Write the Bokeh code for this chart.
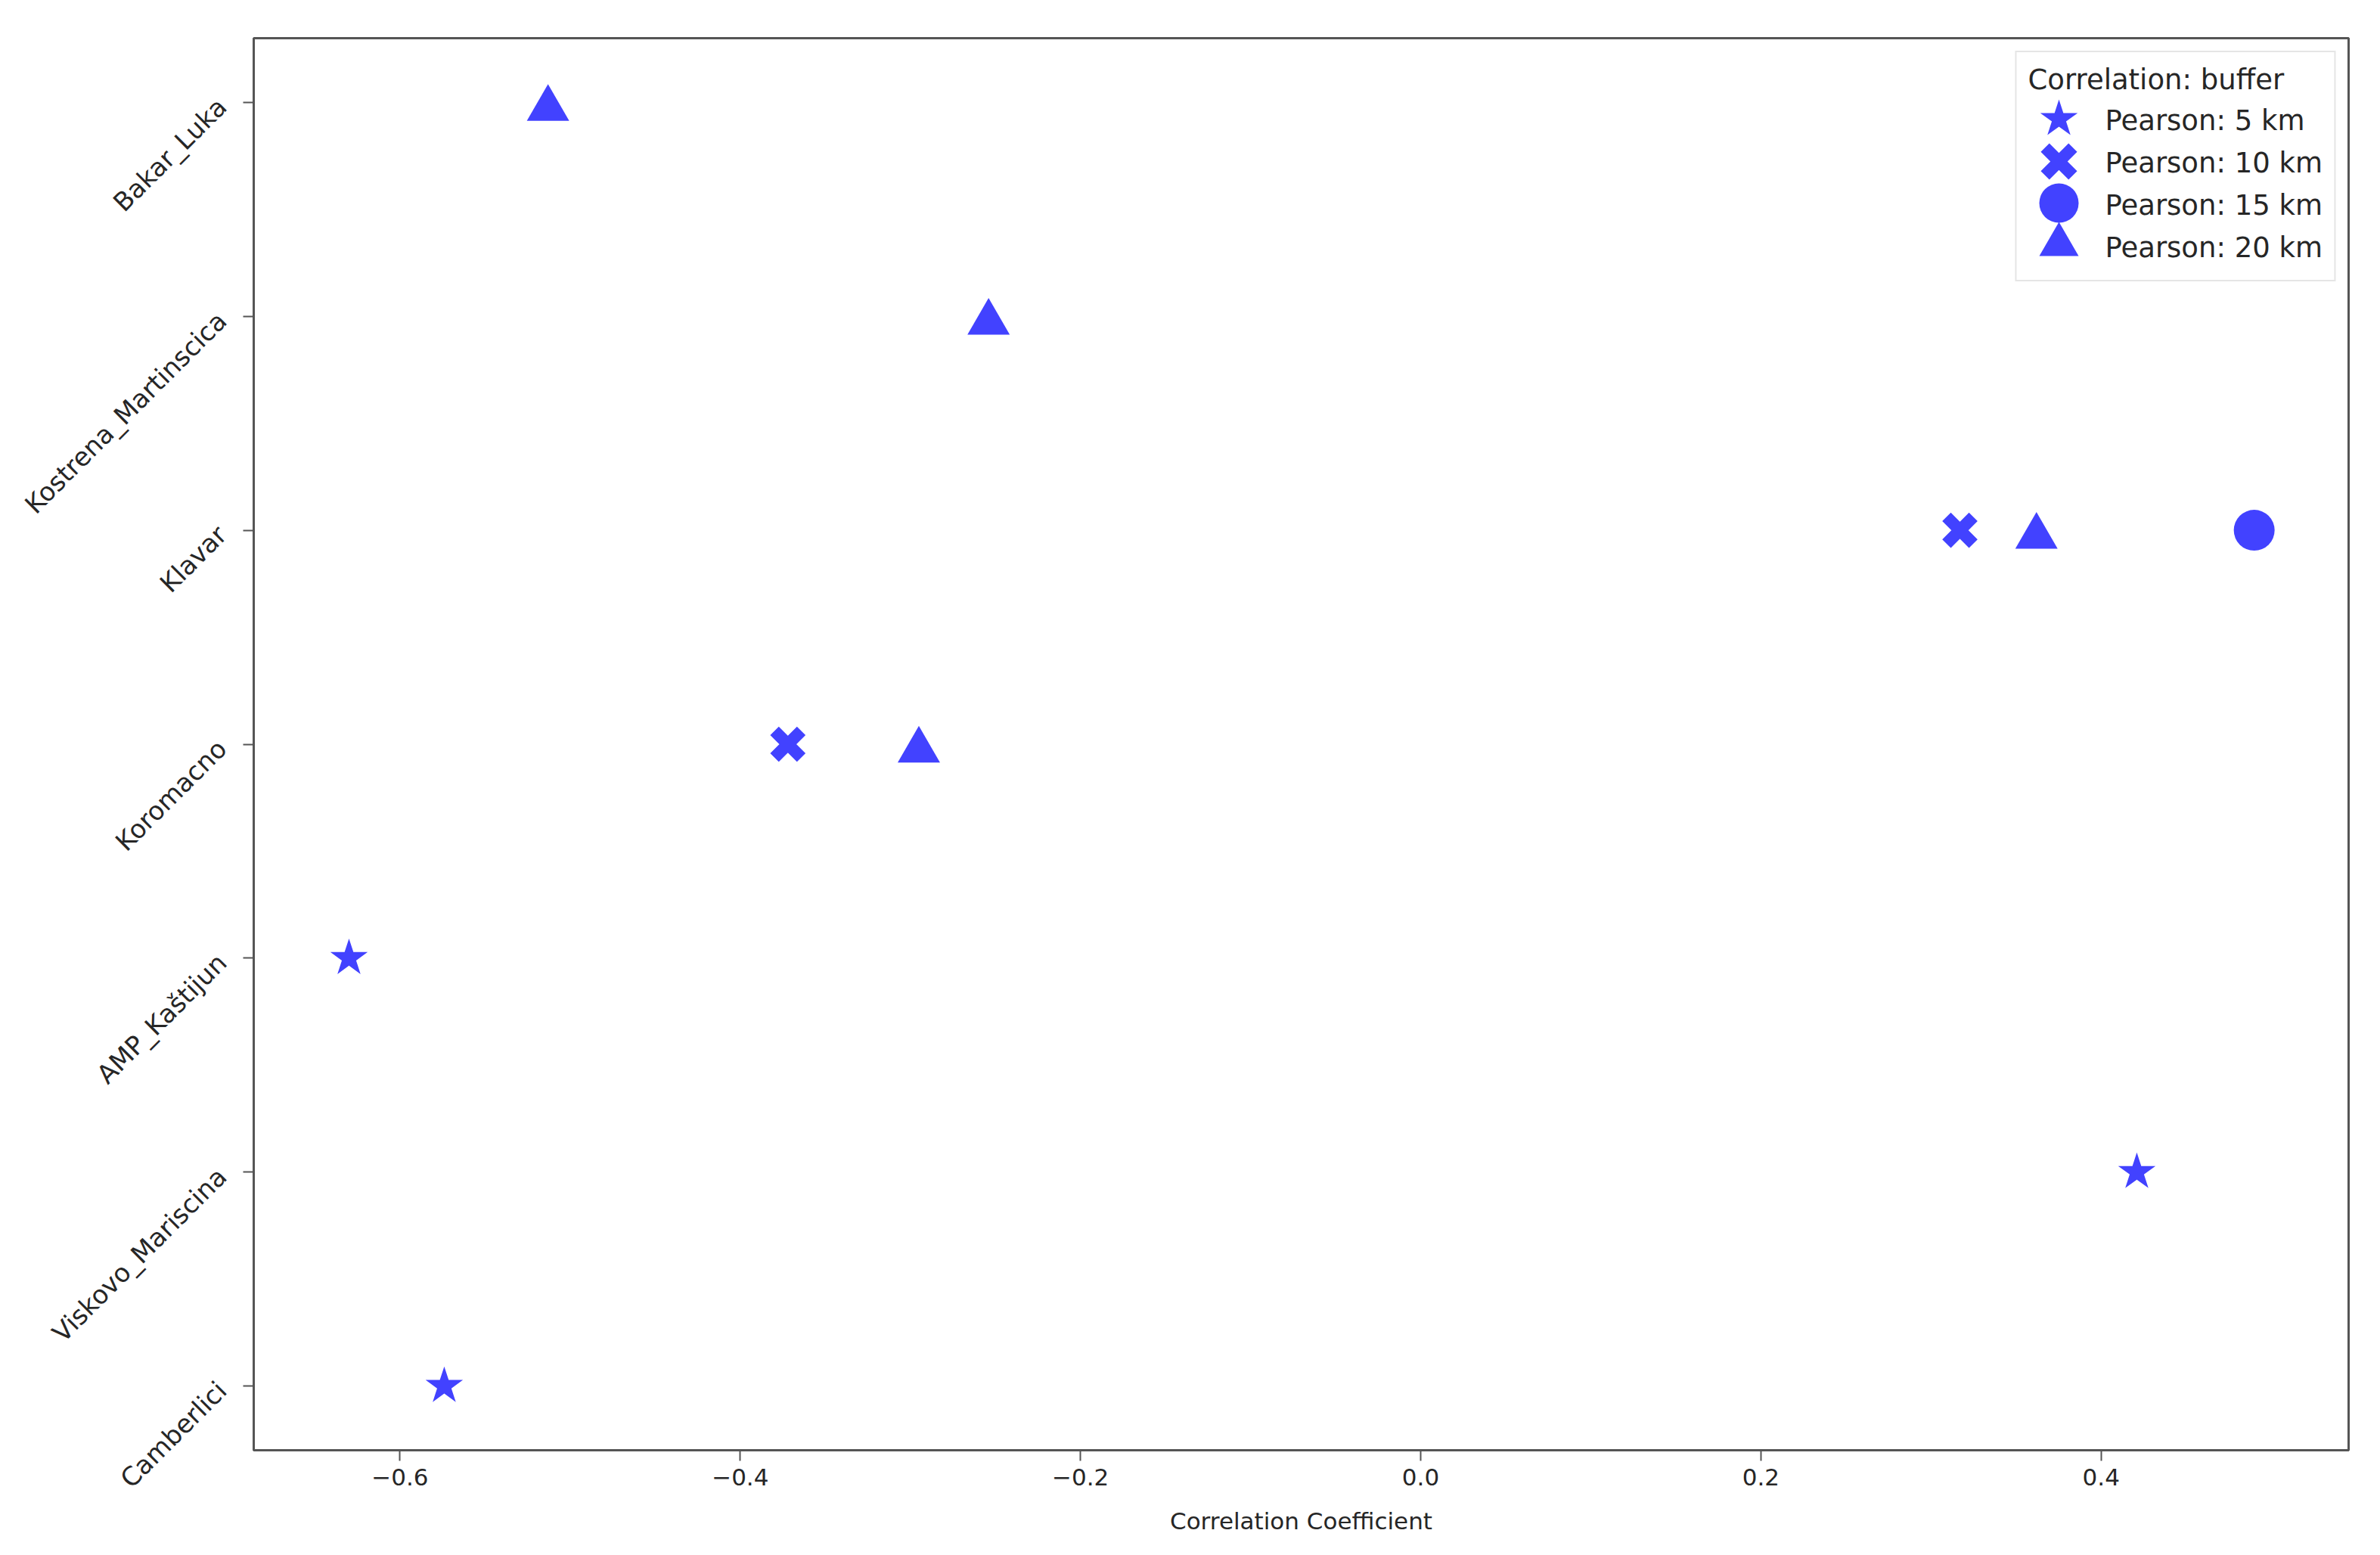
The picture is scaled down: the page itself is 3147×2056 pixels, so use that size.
import math
from bokeh.plotting import figure
from bokeh.models import Range1d, FactorRange, Legend, LegendItem, FixedTicker, CustomJSTickFormatter, ColumnDataSource
from bokeh.transform import dodge
from bokeh.embed import file_html
from bokeh.resources import INLINE

# Categories (bottom to top)
stations = ["Camberlici", "Viskovo_Mariscina", "AMP_Kaštijun", "Koromacno",
            "Klavar", "Kostrena_Martinscica", "Bakar_Luka"]

# Series: Pearson correlation per buffer
p5_sites = ["AMP_Kaštijun", "Viskovo_Mariscina", "Camberlici"]
p5_vals = [-0.630, 0.421, -0.574]

p10_sites = ["Klavar", "Koromacno"]
p10_vals = [0.317, -0.372]

p15_sites = ["Klavar"]
p15_vals = [0.490]

p20_sites = ["Bakar_Luka", "Kostrena_Martinscica", "Klavar", "Koromacno"]
p20_vals = [-0.513, -0.254, 0.362, -0.295]

series_labels = ["Pearson: 5 km", "Pearson: 10 km", "Pearson: 15 km", "Pearson: 20 km"]
x_ticks = [-0.6, -0.4, -0.2, 0.0, 0.2, 0.4]

FONT = "DejaVu Sans"
TXT = "#262626"
BLUE = "#0000ff"
ALPHA = 0.74

p = figure(width=3130, height=2040,
           x_range=Range1d(-0.686, 0.5455),
           y_range=FactorRange(factors=stations, range_padding=-0.2, range_padding_units="absolute"),
           output_backend="svg", toolbar_location=None,
           min_border_left=335, min_border_right=25, min_border_top=50, min_border_bottom=123)

p.grid.visible = False
p.outline_line_color = "#555555"
p.outline_line_width = 3

for ax in (p.xaxis[0], p.yaxis[0]):
    ax.axis_line_color = "#555555"
    ax.axis_line_width = 3
    ax.major_tick_line_color = "#555555"
    ax.major_tick_line_width = 2
    ax.major_tick_out = 14
    ax.major_tick_in = 0
    ax.minor_tick_line_color = None
    ax.major_label_text_font = FONT
    ax.major_label_text_color = TXT
    ax.axis_label_text_font = FONT
    ax.axis_label_text_font_size = "31px"
    ax.axis_label_text_font_style = "normal"
    ax.axis_label_text_color = TXT

p.xaxis.major_label_text_font_size = "31px"
p.yaxis.major_label_text_font_size = "34px"
p.xaxis.ticker = FixedTicker(ticks=x_ticks)
p.xaxis.formatter = CustomJSTickFormatter(code="return tick.toFixed(1).replace('-', '\u2212');")
p.xaxis.axis_label = "Correlation Coefficient"
p.xaxis.major_label_standoff = 10
p.xaxis.axis_label_standoff = 26
p.yaxis.major_label_orientation = math.pi / 4
p.yaxis.major_label_standoff = 28

r5 = p.scatter(x=p5_vals, y=p5_sites, marker="star", size=52, fill_color=BLUE, fill_alpha=ALPHA, line_color=None)
r10 = p.scatter(x=p10_vals, y=p10_sites, marker="x", size=50, line_color=BLUE, line_alpha=ALPHA, line_width=16)
r15 = p.scatter(x=p15_vals, y=p15_sites, marker="circle", size=54, fill_color=BLUE, fill_alpha=ALPHA, line_color=None)
# matplotlib centres '^' on its bounding box; shift Bokeh's centroid-centred triangle down a touch
src20 = ColumnDataSource(data=dict(x=p20_vals, y=p20_sites))
r20 = p.scatter(x="x", y=dodge("y", -0.029, range=p.y_range), source=src20,
                marker="triangle", size=56, fill_color=BLUE, fill_alpha=ALPHA, line_color=None)
renderers = [r5, r10, r15, r20]

# Main legend box: title + labels (glyph area collapsed, markers overlaid below)
legend = Legend(items=[LegendItem(label=lab, renderers=[r]) for lab, r in zip(series_labels, renderers)],
                location="top_right", title="Correlation: buffer",
                glyph_width=0, glyph_height=56, spacing=0,
                padding=15, margin=17, title_standoff=4, label_standoff=102,
                label_text_font=FONT, label_text_font_size="37px", label_text_color=TXT,
                title_text_font=FONT, title_text_font_size="37px", title_text_font_style="normal",
                title_text_color=TXT,
                border_line_color="#cccccc", border_line_width=2,
                background_fill_alpha=0.85)
p.add_layout(legend)

# Large legend markers, one small legend per series (bottom-left corner, px from frame bottom-left)
marker_legend_x = 2322
marker_legend_y = [1695, 1639, 1584, 1529]
for r, ly in zip(renderers, marker_legend_y):
    lg = Legend(items=[LegendItem(label=" ", renderers=[r])],
                location=(marker_legend_x, ly),
                glyph_width=130, glyph_height=130, spacing=0, padding=0, margin=0,
                label_standoff=0, label_text_font_size="1px",
                border_line_color=None, background_fill_color=None)
    p.add_layout(lg)

open("out.html", "w").write(file_html(p, INLINE))
